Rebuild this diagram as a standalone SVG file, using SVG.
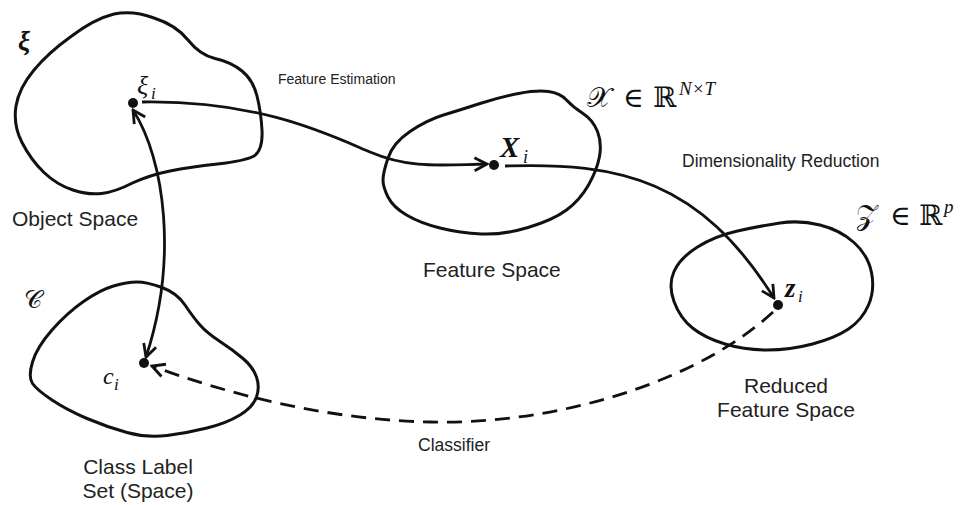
<svg xmlns="http://www.w3.org/2000/svg" width="961" height="505" viewBox="0 0 961 505">
<style>
.blob{fill:none;stroke:#111;stroke-width:3;stroke-linejoin:round}
.conn{fill:none;stroke:#111;stroke-width:2.8}
.dash{stroke-dasharray:15 9}
.dot{fill:#111}
.lbl{font-family:"Liberation Sans",Arial,sans-serif;fill:#222}
.big{font-size:21px}
.small{font-size:17.5px}
.fe{font-size:14px}
.m{font-family:"Liberation Serif","DejaVu Serif",serif;fill:#111}
.it{font-style:italic}
.bi{font-style:italic;font-weight:bold}
.sym{font-family:"DejaVu Serif","Liberation Serif",serif;fill:#111}
</style>
<defs>
<marker id="chev" viewBox="-14 -8 16 16" refX="0" refY="0" markerWidth="16" markerHeight="16" markerUnits="userSpaceOnUse" orient="auto-start-reverse">
<path d="M-12.5,-6.5 L0,0 L-12.5,6.5" fill="none" stroke="#111" stroke-width="2.8" stroke-linejoin="miter"/>
</marker>
</defs>

<g id="object-space">
<path class="blob" d="M154,18 Q176,25 188,40 Q200,55 215,58.5 Q231,62 242,71 Q253,80 257,96 Q261,112 262,130 Q263,150 254,156 Q245,161 217.5,164 Q190,167 170,171 Q150,175 132.5,183 Q115,192 101.5,193.5 Q88,195 73,190 Q57,185 44,172.5 Q31,160 22,142.5 Q13,125 16,106 Q19,88 34,70 Q48,53 71,36.5 Q94,19 114,14 Q133,10 154,18 Z"/>
<circle class="dot" cx="133" cy="103" r="5"/>
<text class="m bi" x="18" y="50" font-size="27">ξ</text>
<text class="m it" x="137" y="94" font-size="26">ξ</text>
<text class="m it" x="151" y="99" font-size="17">i</text>
<text class="lbl big" x="12" y="226">Object Space</text>
</g>

<g id="feature-space">
<path class="blob" d="M388,158 Q393,143 410,131.5 Q427,120 443.5,115 Q460,110 480,103.5 Q500,97 518.5,93.5 Q537,90 548.5,91.5 Q560,93 566.5,100 Q573,107 583,113.5 Q593,120 597.5,131.5 Q602,143 599.5,156.5 Q597,170 588.5,185 Q580,200 566.5,210 Q553,220 528,227.5 Q503,235 481.5,234 Q460,233 440,228 Q420,223 406.5,215 Q393,207 388,197 Q383,187 383,180 Q383,173 388,158 Z"/>
<circle class="dot" cx="494" cy="165" r="5"/>
<text class="m bi" x="500" y="157" font-size="29">X</text>
<text class="m it" x="523" y="163" font-size="18">i</text>
<text class="sym" y="107" font-size="28"><tspan x="587">𝒳</tspan><tspan x="623">∈</tspan><tspan x="653">ℝ</tspan></text>
<text class="m it" x="679" y="95" font-size="19">N×T</text>
<text class="lbl big" x="423" y="277">Feature Space</text>
</g>

<g id="reduced-feature-space">
<path class="blob" d="M674,271.5 Q680,258 697.5,247 Q715,236 737.5,231 Q760,226 780,223 Q800,220 820,225 Q840,230 854,242.5 Q868,255 871.5,272.5 Q875,290 868.5,305 Q862,320 848.5,329 Q835,338 812.5,344 Q790,350 767.5,350 Q745,350 725,344 Q705,338 692.5,328 Q680,318 674,301.5 Q668,285 674,271.5 Z"/>
<circle class="dot" cx="778" cy="305" r="5"/>
<text class="m bi" x="785" y="297" font-size="27">z</text>
<text class="m it" x="798" y="302" font-size="17">i</text>
<text class="sym" y="225" font-size="28"><tspan x="856">𝒵</tspan><tspan x="890">∈</tspan><tspan x="919">ℝ</tspan></text>
<text class="m it" x="944" y="213" font-size="19">p</text>
<text class="lbl big" x="786" y="393" text-anchor="middle">Reduced</text>
<text class="lbl big" x="786" y="417" text-anchor="middle">Feature Space</text>
</g>

<g id="class-label-space">
<path class="blob" d="M162,287.5 Q177,293 185,305 Q193,317 200,325 Q207,333 220,341.5 Q233,350 243,358.5 Q253,367 256.5,377 Q260,387 256.5,397 Q253,407 240,415 Q227,423 207,428 Q187,433 167,435.5 Q147,438 127,432.5 Q107,427 87,418.5 Q67,410 52,400 Q37,390 32.5,383.5 Q28,377 32.5,362 Q37,347 52,330 Q67,313 83.5,301.5 Q100,290 113.5,286 Q127,282 137,282 Q147,282 162,287.5 Z"/>
<circle class="dot" cx="144" cy="363" r="5"/>
<text class="sym" x="24" y="308" font-size="25">𝒞</text>
<text class="m it" x="103" y="384" font-size="24">c</text>
<text class="m it" x="114" y="390" font-size="17">i</text>
<text class="lbl big" x="138" y="474" text-anchor="middle">Class Label</text>
<text class="lbl big" x="138" y="498" text-anchor="middle">Set (Space)</text>
</g>

<g id="connectors">
<path class="conn" marker-end="url(#chev)" d="M142,102 C260,100 330,135 370,152 S440,165 487,164"/>
<path class="conn" marker-end="url(#chev)" d="M505,166 C620,162 700,180 774,298"/>
<path class="conn" marker-start="url(#chev)" marker-end="url(#chev)" d="M133,110 C165,160 178,260 146,357"/>
<path class="conn dash" marker-end="url(#chev)" d="M773,312 C700,380 560,425 430,422 C330,420 230,395 152,366"/>
<text class="lbl fe" x="278" y="84">Feature Estimation</text>
<text class="lbl small" x="682" y="167">Dimensionality Reduction</text>
<text class="lbl small" x="418" y="451">Classifier</text>
</g>
</svg>
